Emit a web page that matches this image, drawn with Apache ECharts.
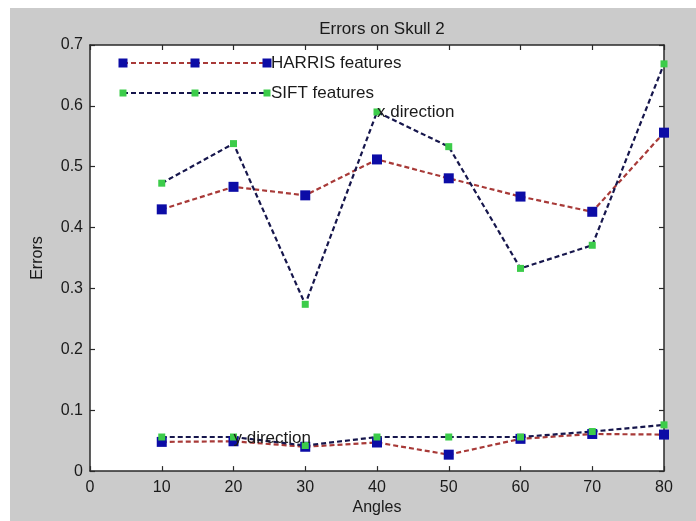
<!DOCTYPE html>
<html>
<head>
<meta charset="utf-8">
<script src="https://cdn.jsdelivr.net/npm/echarts@6/dist/echarts.min.js"></script>
<style>
html,body{margin:0;padding:0;background:#fff;}
#chart{width:696px;height:521px;}
</style>
</head>
<body>
<div id="chart"></div>
<script>
// ---- data ----
const angles = [10, 20, 30, 40, 50, 60, 70, 80];
const harrisX = [0.430, 0.467, 0.453, 0.512, 0.481, 0.451, 0.426, 0.556];
const siftX   = [0.473, 0.538, 0.274, 0.590, 0.533, 0.333, 0.371, 0.669];
const harrisY = [0.048, 0.049, 0.040, 0.047, 0.027, 0.053, 0.061, 0.060];
const siftY   = [0.056, 0.056, 0.042, 0.056, 0.056, 0.056, 0.065, 0.076];
const xTicks = [0, 10, 20, 30, 40, 50, 60, 70, 80];
const yTicks = [0, 0.1, 0.2, 0.3, 0.4, 0.5, 0.6, 0.7];
const annotations = [
  {text: 'x direction', x: 40, y: 0.59},
  {text: 'y direction', x: 20, y: 0.054}
];
const legendNames = ['HARRIS features', 'SIFT features'];
const titleText = 'Errors on Skull 2';

// ---- styles ----
const FONT = 'Liberation Sans, Arial, sans-serif';
const TXT = '#1a1a1a';
const AXC = '#2a2a2a';
const RED = '#a83a38';
const NAVY = '#16164c';
const BLUE = '#0c0ca6';
const GREEN = '#3ccc4a';
const DASH = [5, 3];

const G = {left: 90, top: 45, right: 664, bottom: 476};

function pairs(xs, ys) { return xs.map((x, i) => [x, ys[i]]); }

const harrisStyle = {
  type: 'line', symbol: 'rect', symbolSize: 10,
  itemStyle: {color: BLUE},
  lineStyle: {color: RED, width: 2.2, type: DASH},
  emphasis: {disabled: true}, animation: false
};
const siftStyle = {
  type: 'line', symbol: 'rect', symbolSize: 7,
  itemStyle: {color: GREEN},
  lineStyle: {color: NAVY, width: 2.2, type: DASH},
  emphasis: {disabled: true}, animation: false
};

// legend drawn as graphics (MATLAB-style line with three markers)
const legRows = [
  {y: 63, line: RED, mark: BLUE, size: 9},
  {y: 93, line: NAVY, mark: GREEN, size: 7}
];
const legX = [123, 195, 267];
const legendGraphics = [];
legRows.forEach((r, i) => {
  legendGraphics.push({type: 'line', z: 100,
    shape: {x1: legX[0], y1: r.y, x2: legX[2], y2: r.y},
    style: {stroke: r.line, lineWidth: 2.2, lineDash: DASH}});
  legX.forEach(x => legendGraphics.push({type: 'rect', z: 101,
    shape: {x: x - r.size / 2, y: r.y - r.size / 2, width: r.size, height: r.size},
    style: {fill: r.mark}}));
  legendGraphics.push({type: 'text', z: 102, x: legX[2] + 4, y: r.y,
    style: {text: legendNames[i], fill: TXT, font: '17px ' + FONT,
      textAlign: 'left', textVerticalAlign: 'middle'}});
});

const axisCommon = {
  type: 'value',
  axisLine: {show: true, onZero: false, lineStyle: {color: AXC, width: 1.5}},
  axisTick: {show: true, inside: true, length: 5, lineStyle: {color: AXC, width: 1.2}},
  splitLine: {show: false},
  axisLabel: {color: TXT, fontFamily: FONT, fontSize: 16}
};

const chart = echarts.init(document.getElementById('chart'), null, {renderer: 'canvas'});
chart.setOption({
  backgroundColor: '#ffffff',
  animation: false,
  title: {
    text: titleText, left: (G.left + G.right) / 2, top: 16, textAlign: 'center',
    textStyle: {color: TXT, fontFamily: FONT, fontSize: 17, fontWeight: 'normal'}
  },
  grid: {left: G.left, top: G.top, right: 696 - G.right, bottom: 521 - G.bottom,
    show: true, backgroundColor: '#ffffff', borderWidth: 0, containLabel: false},
  graphic: [
    {type: 'rect', z: -100, silent: true, shape: {x: 10, y: 8, width: 700, height: 520},
      style: {fill: '#cbcbcb'}}
  ].concat(legendGraphics),
  xAxis: [
    Object.assign({}, axisCommon, {
      position: 'bottom', min: xTicks[0], max: xTicks[xTicks.length - 1], interval: 10,
      name: 'Angles', nameLocation: 'middle', nameGap: 28,
      nameTextStyle: {color: TXT, fontFamily: FONT, fontSize: 16},
      axisLabel: Object.assign({}, axisCommon.axisLabel, {margin: 8})
    }),
    Object.assign({}, axisCommon, {
      position: 'top', min: xTicks[0], max: xTicks[xTicks.length - 1], interval: 10,
      axisLabel: {show: false}
    })
  ],
  yAxis: [
    Object.assign({}, axisCommon, {
      position: 'left', min: yTicks[0], max: yTicks[yTicks.length - 1], interval: 0.1,
      name: 'Errors', nameLocation: 'middle', nameGap: 44,
      nameTextStyle: {color: TXT, fontFamily: FONT, fontSize: 16},
      axisLabel: Object.assign({}, axisCommon.axisLabel, {margin: 7,
        formatter: v => (Math.round(v * 10) / 10).toString()})
    }),
    Object.assign({}, axisCommon, {
      position: 'right', min: yTicks[0], max: yTicks[yTicks.length - 1], interval: 0.1,
      axisLabel: {show: false}
    })
  ],
  series: [
    Object.assign({name: 'HARRIS x', data: pairs(angles, harrisX)}, harrisStyle),
    Object.assign({name: 'SIFT x', data: pairs(angles, siftX)}, siftStyle),
    Object.assign({name: 'HARRIS y', data: pairs(angles, harrisY)}, harrisStyle),
    Object.assign({name: 'SIFT y', data: pairs(angles, siftY)}, siftStyle),
    {
      name: 'annotations', type: 'scatter', symbolSize: 0, z: 10, animation: false,
      itemStyle: {opacity: 1, color: TXT},
      data: annotations.map(a => ({value: [a.x, a.y], name: a.text})),
      label: {show: true, position: 'right', distance: 0, formatter: p => p.name,
        color: TXT, opacity: 1, fontFamily: FONT, fontSize: 17},
      emphasis: {disabled: true}
    }
  ]
});
</script>
</body>
</html>
